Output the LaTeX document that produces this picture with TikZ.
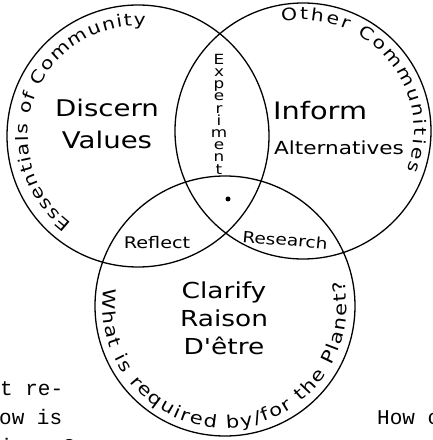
\documentclass[tikz,border=0pt]{standalone}
\usepackage{fontspec}
\usetikzlibrary{decorations.text}
\newfontfamily\handfont[FakeStretch=1.2]{DejaVu Sans}
\newfontfamily\typefont{Liberation Mono}

\begin{document}
\begin{tikzpicture}[x=1pt, y=1pt,
    ring/.style={circle, draw, line width=1.3pt, inner sep=0pt, outer sep=0pt, minimum size=#1},
    word/.style={inner sep=0pt, align=center},
    typed/.style={inner sep=0pt, anchor=base west, font=\typefont\fontsize{21}{29}\selectfont}]
    \useasboundingbox (0,0) rectangle (433,440);
    \clip (0,0) rectangle (433,440);

    % Kola
    \node[ring=262pt] (left) at (138,304) {};
    \node[ring=256pt] (right) at (303,309) {};
    \node[ring=260pt] (bottom) at (225,134) {};

    % Napisy w kolach
    \node[word, font=\handfont\fontsize{23}{32}\selectfont] (discern) at (107,316) {Discern\\Values};
    \node[word, anchor=base west, font=\handfont\fontsize{24}{30}\selectfont] (inform) at (273,320) {Inform};
    \node[word, anchor=base west, font=\handfont\fontsize{18}{30}\selectfont] (alternatives) at (274,285) {Alternatives};
    \node[word, font=\handfont\fontsize{22}{28}\selectfont] (clarify) at (224,122) {Clarify\\Raison\\D'être};
    \node[word, font=\handfont\fontsize{16}{20}\selectfont] (reflect) at (157,197) {Reflect};
    \node[word, font=\handfont\fontsize{15.5}{20}\selectfont, rotate=-5] (research) at (285,200) {Research};
    \node[word, font=\handfont\fontsize{14}{12.2}\selectfont] (experiment) at (219,326)
        {E\\x\\p\\e\\r\\i\\m\\e\\n\\t};
    \node[circle, fill, inner sep=0pt, minimum size=5pt] (dot) at (228,241) {};

    % Napisy wzdluz kol
    \path[decorate, decoration={text along path, text align={fit to path},
        text={|\handfont\fontsize{17}{20}\selectfont|Essentials of Community}}]
        (left.center) ++(233:110) arc[start angle=233, end angle=86, radius=110];
    \path[decorate, decoration={text along path, text align={fit to path},
        text={|\handfont\fontsize{17}{20}\selectfont|Other Communities}}]
        (right.center) ++(101:111) arc[start angle=101, end angle=-21, radius=111];
    \path[decorate, decoration={text along path, text align={fit to path},
        text={|\handfont\fontsize{17.5}{20}\selectfont|What is required by/for the Planet?}}]
        (bottom.center) ++(172:122) arc[start angle=172, end angle=372, radius=122];

    % Tekst maszynowy na brzegach
    \node[typed] (lineA) at (0,45) {t re-};
    \node[typed] (lineB) at (-1,16) {ow is};
    \node[typed] (lineC) at (0,-13) {issue?};
    \node[typed] (lineD) at (377,16) {How c};
    \node[typed] (lineE) at (377,-13) {we n};
\end{tikzpicture}
\end{document}
